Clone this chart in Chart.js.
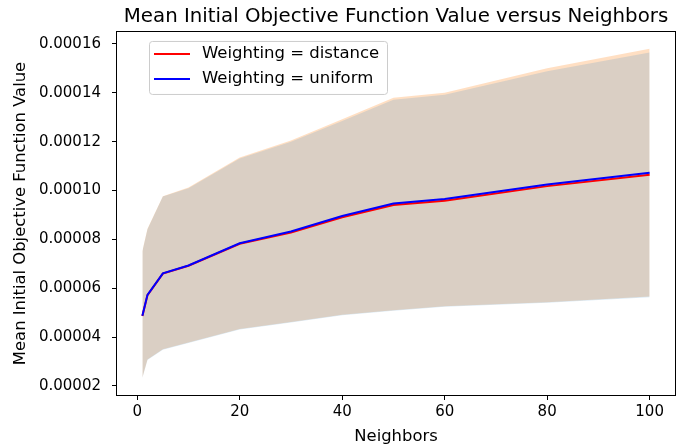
<!DOCTYPE html>
<html>
<head>
<meta charset="utf-8">
<script src="https://cdn.jsdelivr.net/npm/chart.js@4/dist/chart.umd.min.js"></script>
<style>
  html, body { margin: 0; padding: 0; background: #fff; }
  canvas { display: block; }
</style>
</head>
<body>
<canvas id="chart" width="681" height="447"></canvas>
<script>
const neighbors = [1, 2, 5, 10, 20, 30, 40, 50, 60, 80, 100];

const distanceMean = [4.86e-5, 5.72e-5, 6.60e-5, 6.92e-5, 7.82e-5, 8.28e-5, 8.90e-5, 9.41e-5, 9.58e-5, 1.018e-4, 1.065e-4];
const distanceUpper = [7.52e-5, 8.43e-5, 9.77e-5, 1.012e-4, 1.135e-4, 1.205e-4, 1.292e-4, 1.380e-4, 1.400e-4, 1.500e-4, 1.580e-4];
const distanceLower = [2.35e-5, 3.08e-5, 3.50e-5, 3.78e-5, 4.33e-5, 4.62e-5, 4.91e-5, 5.10e-5, 5.26e-5, 5.43e-5, 5.66e-5];

const uniformMean = [4.87e-5, 5.73e-5, 6.61e-5, 6.93e-5, 7.84e-5, 8.32e-5, 8.96e-5, 9.47e-5, 9.65e-5, 1.025e-4, 1.073e-4];
const uniformUpper = [7.50e-5, 8.41e-5, 9.75e-5, 1.009e-4, 1.131e-4, 1.200e-4, 1.285e-4, 1.372e-4, 1.392e-4, 1.488e-4, 1.565e-4];
const uniformLower = [2.33e-5, 3.06e-5, 3.48e-5, 3.76e-5, 4.31e-5, 4.60e-5, 4.89e-5, 5.08e-5, 5.24e-5, 5.41e-5, 5.63e-5];

const xTicks = [0, 20, 40, 60, 80, 100];
const yTicks = [2e-5, 4e-5, 6e-5, 8e-5, 1e-4, 1.2e-4, 1.4e-4, 1.6e-4];

const FONT = "'DejaVu Sans', sans-serif";

const pts = (ys) => neighbors.map((x, i) => ({ x, y: ys[i] }));

const band = (ys, fill, bg, order) => ({
  data: pts(ys),
  borderWidth: 0,
  pointRadius: 0,
  backgroundColor: bg,
  fill,
  order,
});

// box around the axes + legend drawn inside the plot
const frameAndLegend = {
  id: "frameAndLegend",
  afterDraw(chart) {
    const { ctx, chartArea: a } = chart;
    ctx.save();
    ctx.strokeStyle = "#000";
    ctx.lineWidth = 1;
    ctx.strokeRect(Math.round(a.left) - 0.5, Math.round(a.top) - 0.5,
      Math.round(a.right - a.left) + 1, Math.round(a.bottom - a.top) + 1);

    const bx = a.left + 32, by = a.top + 9, bw = 238, bh = 53;
    ctx.beginPath();
    ctx.roundRect(bx + 0.5, by + 0.5, bw, bh, 3);
    ctx.fillStyle = "rgba(255,255,255,0.8)";
    ctx.fill();
    ctx.strokeStyle = "#cccccc";
    ctx.stroke();

    const entries = [
      { label: "Weighting = distance", color: "#ff0000" },
      { label: "Weighting = uniform", color: "#0000ff" },
    ];
    ctx.font = `16.5px ${FONT}`;
    ctx.textBaseline = "middle";
    entries.forEach((e, i) => {
      const y = by + 13 + i * 25;
      ctx.strokeStyle = e.color;
      ctx.lineWidth = 2;
      ctx.beginPath();
      ctx.moveTo(bx + 5, y);
      ctx.lineTo(bx + 41, y);
      ctx.stroke();
      ctx.fillStyle = "#000";
      ctx.fillText(e.label, bx + 53, y);
    });
    ctx.restore();
  },
};

new Chart(document.getElementById("chart"), {
  type: "line",
  data: {
    datasets: [
      {
        label: "Weighting = uniform",
        data: pts(uniformMean),
        borderColor: "#0000ff",
        borderWidth: 2,
        pointRadius: 0,
        fill: false,
        order: 0,
      },
      {
        label: "Weighting = distance",
        data: pts(distanceMean),
        borderColor: "#ff0000",
        borderWidth: 2,
        pointRadius: 0,
        fill: false,
        order: 1,
      },
      band(uniformUpper, 3, "rgba(70,143,200,0.2)", 2),
      band(uniformLower, false, "transparent", 3),
      band(distanceUpper, 5, "rgba(255,127,14,0.25)", 4),
      band(distanceLower, false, "transparent", 5),
    ],
  },
  options: {
    responsive: false,
    animation: false,
    layout: { padding: { left: 0, right: 6, top: 0, bottom: 0 } },
    plugins: {
      legend: { display: false },
      tooltip: { enabled: false },
      title: {
        display: true,
        text: "Mean Initial Objective Function Value versus Neighbors",
        fullSize: false,
        color: "#000",
        font: { family: FONT, size: 19.8, weight: "normal", lineHeight: 1.2 },
        padding: { top: 5, bottom: 3.2 },
      },
    },
    scales: {
      x: {
        type: "linear",
        min: -3.95,
        max: 104.95,
        afterBuildTicks: (s) => { s.ticks = xTicks.map((v) => ({ value: v })); },
        afterFit: (s) => { s.height = 52; },
        border: { display: false },
        grid: { drawOnChartArea: false, drawTicks: true, tickLength: 5, tickColor: "#000" },
        ticks: { color: "#000", padding: 3, maxRotation: 0, font: { family: FONT, size: 15 } },
        title: {
          display: true,
          text: "Neighbors",
          color: "#000",
          font: { family: FONT, size: 16.4, lineHeight: 1.2 },
          padding: { top: 0, bottom: 0 },
        },
      },
      y: {
        min: 1.63e-5,
        max: 1.649e-4,
        afterBuildTicks: (s) => { s.ticks = yTicks.map((v) => ({ value: v })); },
        afterFit: (s) => { s.width = 117; },
        border: { display: false },
        grid: { drawOnChartArea: false, drawTicks: true, tickLength: 5, tickColor: "#000" },
        ticks: {
          color: "#000",
          padding: 11,
          font: { family: FONT, size: 15 },
          callback: (v) => v.toFixed(5),
        },
        title: {
          display: true,
          text: "Mean Initial Objective Function Value",
          color: "#000",
          font: { family: FONT, size: 16.4, lineHeight: 1.2 },
          padding: { top: 11, bottom: 0 },
        },
      },
    },
  },
  plugins: [frameAndLegend],
});
</script>
</body>
</html>
